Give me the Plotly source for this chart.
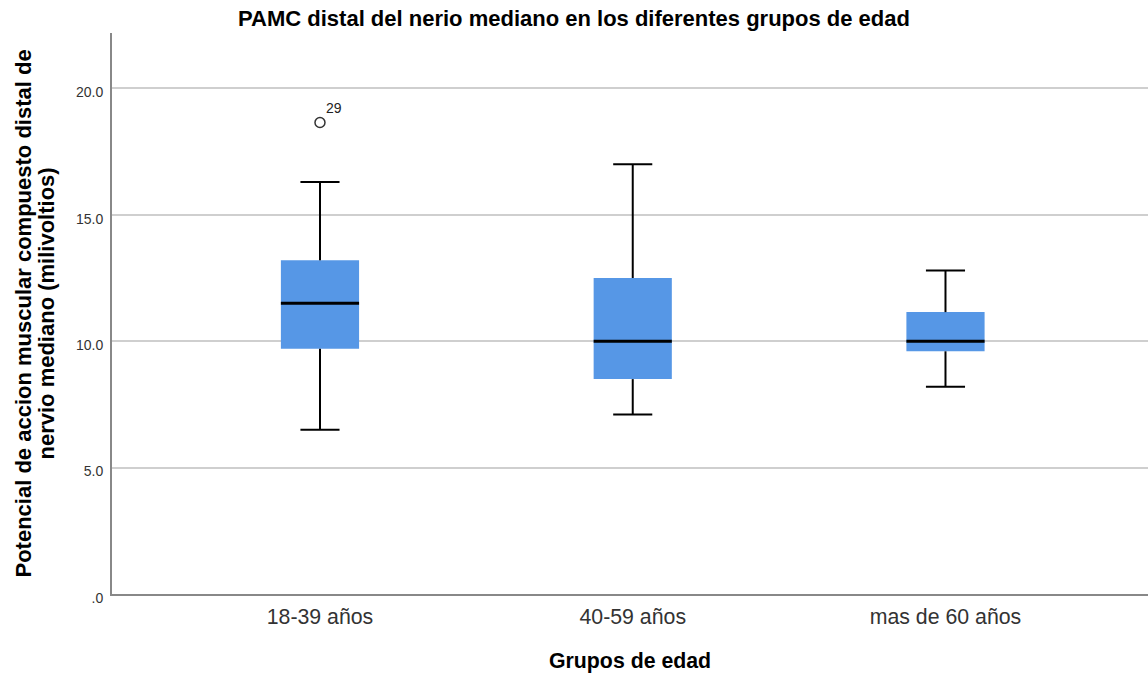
import plotly.graph_objects as go

# Age groups and the five-number summaries of distal CMAP amplitude (mV)
groups = ["18-39 años", "40-59 años", "mas de 60 años"]
lower_whisker = [6.5, 7.1, 8.2]
q1 = [9.7, 8.5, 9.6]
median = [11.5, 10.0, 10.0]
q3 = [13.2, 12.5, 11.15]
upper_whisker = [16.3, 17.0, 12.8]

# Outlying case
outlier_group = [0]
outlier_value = [18.65]
outlier_label = ["29"]

y_ticks = [0, 5, 10, 15, 20]
y_tick_text = [".0", "5.0", "10.0", "15.0", "20.0"]

FONT = "Liberation Sans, Arial, sans-serif"
BOX_W = 0.25
CAP_HALF = 0.0625
MED_HALF = BOX_W / 2

pos = list(range(len(groups)))

fig = go.Figure()

# Box bodies (Q1 to Q3)
fig.add_trace(go.Bar(
    x=pos,
    y=[b - a for a, b in zip(q1, q3)],
    base=q1,
    width=BOX_W,
    marker=dict(color="#5697E6", line=dict(width=0)),
    hoverinfo="skip",
    showlegend=False,
))

# Whisker stems and caps
wx, wy = [], []
for p, lo, a, b, hi in zip(pos, lower_whisker, q1, q3, upper_whisker):
    wx += [p, p, None, p, p, None]
    wy += [b, hi, None, a, lo, None]
    wx += [p - CAP_HALF, p + CAP_HALF, None, p - CAP_HALF, p + CAP_HALF, None]
    wy += [hi, hi, None, lo, lo, None]
fig.add_trace(go.Scatter(
    x=wx, y=wy, mode="lines",
    line=dict(color="#000000", width=2),
    hoverinfo="skip", showlegend=False,
))

# Median lines
mx, my = [], []
for p, m in zip(pos, median):
    mx += [p - MED_HALF, p + MED_HALF, None]
    my += [m, m, None]
fig.add_trace(go.Scatter(
    x=mx, y=my, mode="lines",
    line=dict(color="#000000", width=3),
    hoverinfo="skip", showlegend=False,
))

# Outlier
fig.add_trace(go.Scatter(
    x=outlier_group, y=outlier_value, mode="markers",
    marker=dict(symbol="circle-open", size=10, color="#333333",
                line=dict(width=1.5, color="#333333")),
    showlegend=False,
))
for g, v, t in zip(outlier_group, outlier_value, outlier_label):
    fig.add_annotation(x=g, y=v, text=t, showarrow=False,
                       xshift=14.5, yshift=15,
                       font=dict(family=FONT, size=14, color="#222222"))

# Axis titles
fig.add_annotation(
    xref="paper", yref="paper", x=0.5, y=0, yanchor="middle",
    yshift=-67, showarrow=False, text="<b>Grupos de edad</b>",
    font=dict(family=FONT, size=21.3, color="#000000"),
)
fig.add_annotation(
    xref="paper", yref="paper", x=-(112 - 23) / 1036, y=0.5,
    xanchor="center", yanchor="middle", textangle=-90, showarrow=False,
    text="<b>Potencial de accion muscular compuesto distal de</b>",
    font=dict(family=FONT, size=22, color="#000000"),
)
fig.add_annotation(
    xref="paper", yref="paper", x=-(112 - 46) / 1036, y=0.5,
    xanchor="center", yanchor="middle", textangle=-90, showarrow=False,
    text="<b>nervio mediano (milivoltios)</b>",
    font=dict(family=FONT, size=22, color="#000000"),
)

fig.update_layout(
    width=1148, height=675,
    margin=dict(l=112, r=0, t=33, b=81),
    paper_bgcolor="#ffffff", plot_bgcolor="#ffffff",
    font=dict(family=FONT, color="#222222"),
    title=dict(
        text="<b>PAMC distal del nerio mediano en los diferentes grupos de edad</b>",
        x=0.5, xanchor="center", xref="container",
        y=1 - 18.5 / 675, yanchor="middle", yref="container",
        font=dict(family=FONT, size=22, color="#000000"),
    ),
    showlegend=False,
    barmode="overlay",
)

fig.update_xaxes(
    range=[-0.665, 2.6475],
    tickvals=pos, ticktext=groups,
    showgrid=False, zeroline=False,
    showline=True, linecolor="#888888", linewidth=2,
    ticks="", ticklabelstandoff=2,
    tickfont=dict(family=FONT, size=21.3, color="#333333"),
)
fig.update_yaxes(
    range=[0, 22.19],
    tickvals=y_ticks, ticktext=y_tick_text,
    showgrid=True, gridcolor="#cfcfcf", gridwidth=2,
    zeroline=False,
    showline=True, linecolor="#888888", linewidth=2,
    ticks="", ticklabelstandoff=4, ticklabelshift=4,
    tickfont=dict(family=FONT, size=14, color="#333333"),
)

fig.write_html("out.html")
